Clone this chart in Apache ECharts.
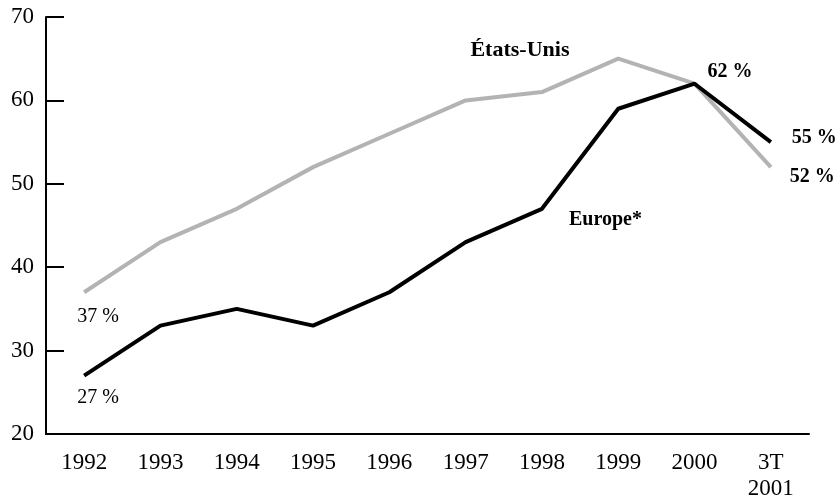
<!DOCTYPE html>
<html lang="fr">
<head>
<meta charset="UTF-8">
<title>États-Unis / Europe</title>
<script src="https://cdn.jsdelivr.net/npm/echarts@6.0.0/dist/echarts.min.js"></script>
<style>
  html, body { margin: 0; padding: 0; background: #fff; }
  #chart { width: 839px; height: 502px; }
</style>
</head>
<body>
<div id="chart"></div>
<script>
// données
var years = ['1992', '1993', '1994', '1995', '1996', '1997', '1998', '1999', '2000', '3T\n2001'];
var usa = [37, 43, 47, 52, 56, 60, 61, 65, 62, 52];
var europe = [27, 33, 35, 33, 37, 43, 47, 59, 62, 55];
var yTicks = [20, 30, 40, 50, 60, 70];

var font = 'Liberation Serif';

function pointLabel(text, pos, bold, offset, size) {
    return {
        show: true,
        position: pos,
        formatter: text,
        fontFamily: font,
        fontSize: size || (bold ? 20 : 20),
        fontWeight: bold ? 'bold' : 'normal',
        color: '#000',
        offset: offset || [0, 0]
    };
}

function withLabels(values, labels) {
    return values.map(function (v, i) {
        return labels[i] ? { value: v, label: labels[i] } : v;
    });
}

var usaData = withLabels(usa, {
    0: pointLabel(usa[0] + ' %', 'bottom', false, [14, 10]),
    6: pointLabel('États-Unis', 'top', true, [-22, -26], 22),
    9: pointLabel(usa[9] + ' %', 'right', true, [14, 10])
});
var europeData = withLabels(europe, {
    0: pointLabel(europe[0] + ' %', 'bottom', false, [14, 7]),
    6: pointLabel('Europe*', 'right', true, [22, 11]),
    8: pointLabel(europe[8] + ' %', 'right', true, [8, -12]),
    9: pointLabel(europe[9] + ' %', 'right', true, [16, -4])
});

var chart = echarts.init(document.getElementById('chart'));
chart.setOption({
    animation: false,
    grid: { left: 46, right: 30, top: 17, bottom: 66 },
    xAxis: {
        type: 'category',
        data: years,
        boundaryGap: true,
        axisLine: { lineStyle: { color: '#000', width: 2 } },
        axisTick: { inside: true, length: 10, lineStyle: { color: '#000', width: 1 } },
        axisLabel: { color: '#000', fontFamily: font, fontSize: 23, margin: 16, lineHeight: 26 }
    },
    yAxis: {
        type: 'value',
        min: yTicks[0],
        max: yTicks[yTicks.length - 1],
        interval: 10,
        splitLine: { show: false },
        axisLine: { show: true, lineStyle: { color: '#000', width: 2 } },
        axisTick: { show: true, inside: true, length: 18, lineStyle: { color: '#000', width: 2 } },
        axisLabel: { color: '#000', fontFamily: font, fontSize: 23, margin: 12 }
    },
    series: [{
        name: 'États-Unis',
        type: 'line',
        data: usaData,
        symbol: 'circle',
        symbolSize: 0,
        showSymbol: true,
        lineStyle: { color: '#b3b3b3', width: 4 },
        itemStyle: { color: '#b3b3b3' },
        z: 2
    }, {
        name: 'Europe',
        type: 'line',
        data: europeData,
        symbol: 'circle',
        symbolSize: 0,
        showSymbol: true,
        lineStyle: { color: '#000', width: 4 },
        itemStyle: { color: '#000' },
        z: 3
    }]
});
</script>
</body>
</html>
